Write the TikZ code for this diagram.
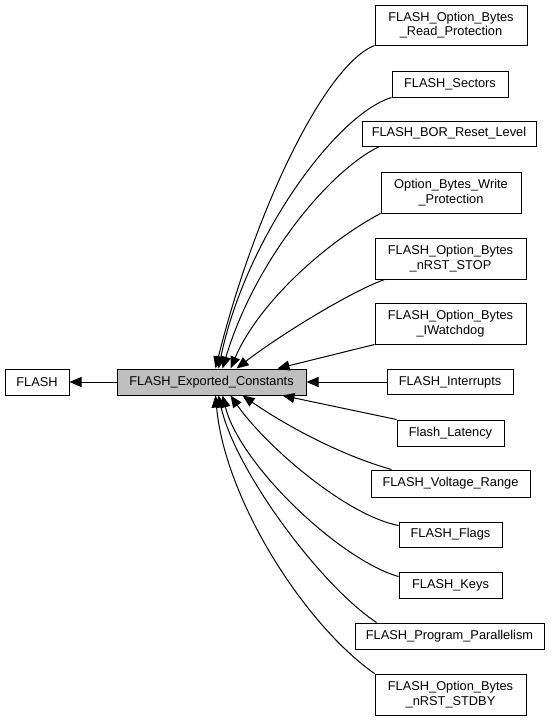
\documentclass[tikz,border=0pt]{standalone}
\usepackage{fontspec}
\setmainfont{Liberation Sans}
\usetikzlibrary{arrows.meta}
\definecolor{fecgray}{HTML}{BFBFBF}
\tikzstyle{group-box}=[
draw,
line width=1pt,
inner sep=0pt,
align=center,
font=\fontsize{12.8}{14.5}\selectfont,
]
\tikzstyle{dep-edge}=[->, line width=1pt]

\begin{document}
\begin{tikzpicture}
        [x=1pt, y=-1pt, >={Triangle[length=12pt,width=10pt]}]
        \useasboundingbox (0,0) rectangle (552,720);
        \node[group-box, minimum width=64pt, minimum height=26pt] (flash) at (37,382) {FLASH};
        \node[group-box, fill=fecgray, minimum width=189pt, minimum height=26pt] (fec) at (211.5,382) {FLASH\_Exported\_Constants};

        \begin{scope}[every node/.style=group-box]
          \node[minimum width=152pt, minimum height=40pt] (rp) at (451,25) {FLASH\_Option\_Bytes\\\_Read\_Protection};
          \node[minimum width=116pt, minimum height=26pt] (sec) at (450,84) {FLASH\_Sectors};
          \node[minimum width=174pt, minimum height=25pt] (bor) at (449,133.5) {FLASH\_BOR\_Reset\_Level};
          \node[minimum width=140pt, minimum height=41pt] (wp) at (451,192.5) {Option\_Bytes\_Write\\\_Protection};
          \node[minimum width=151pt, minimum height=41pt] (stop) at (450.5,258.5) {FLASH\_Option\_Bytes\\\_nRST\_STOP};
          \node[minimum width=151pt, minimum height=41pt] (iwdg) at (450.5,323.5) {FLASH\_Option\_Bytes\\\_IWatchdog};
          \node[minimum width=126pt, minimum height=25pt] (intr) at (450,382) {FLASH\_Interrupts};
          \node[minimum width=107pt, minimum height=26pt] (lat) at (450.5,433) {Flash\_Latency};
          \node[minimum width=159pt, minimum height=27pt] (volt) at (450.5,483.5) {FLASH\_Voltage\_Range};
          \node[minimum width=103pt, minimum height=25pt] (flags) at (450.5,534.5) {FLASH\_Flags};
          \node[minimum width=103pt, minimum height=26pt] (keys) at (450.5,585) {FLASH\_Keys};
          \node[minimum width=189pt, minimum height=26pt] (par) at (449.5,636) {FLASH\_Program\_Parallelism};
          \node[minimum width=151pt, minimum height=41pt] (stdby) at (450.5,694.5) {FLASH\_Option\_Bytes\\\_nRST\_STDBY};
        \end{scope}

        \draw[dep-edge] (fec) -- (flash);
        \draw[dep-edge] (rp.south west) .. controls (325,65) and (255,210) .. ([xshift=99pt]fec.north west);
        \draw[dep-edge] (sec.south west) .. controls (335,115) and (245,240) .. ([xshift=102pt]fec.north west);
        \draw[dep-edge] ([xshift=18pt]bor.south west) .. controls (330,170) and (255,260) .. ([xshift=106pt]fec.north west);
        \draw[dep-edge] (wp.south west) .. controls (330,240) and (260,300) .. ([xshift=114pt]fec.north west);
        \draw[dep-edge] ([xshift=10pt]stop.south west) .. controls (350,292) and (280,335) .. ([xshift=120pt]fec.north west);
        \draw[dep-edge] (iwdg.south west) -- ([xshift=161pt]fec.north west);
        \draw[dep-edge] (intr) -- (fec);
        \draw[dep-edge] (lat.north west) -- ([xshift=166pt]fec.south west);
        \draw[dep-edge] ([xshift=21pt]volt.north west) .. controls (340,455) and (285,425) .. ([xshift=126pt]fec.south west);
        \draw[dep-edge] ([yshift=-4pt]flags.north west) .. controls (345,515) and (265,445) .. ([xshift=114pt]fec.south west);
        \draw[dep-edge] ([yshift=-5pt]keys.north west) .. controls (340,560) and (240,465) .. ([xshift=106pt]fec.south west);
        \draw[dep-edge] ([xshift=22pt]par.north west) .. controls (320,585) and (235,470) .. ([xshift=102pt]fec.south west);
        \draw[dep-edge] (stdby.north west) .. controls (305,625) and (225,500) .. ([xshift=99pt]fec.south west);
      \end{tikzpicture}
\end{document}
